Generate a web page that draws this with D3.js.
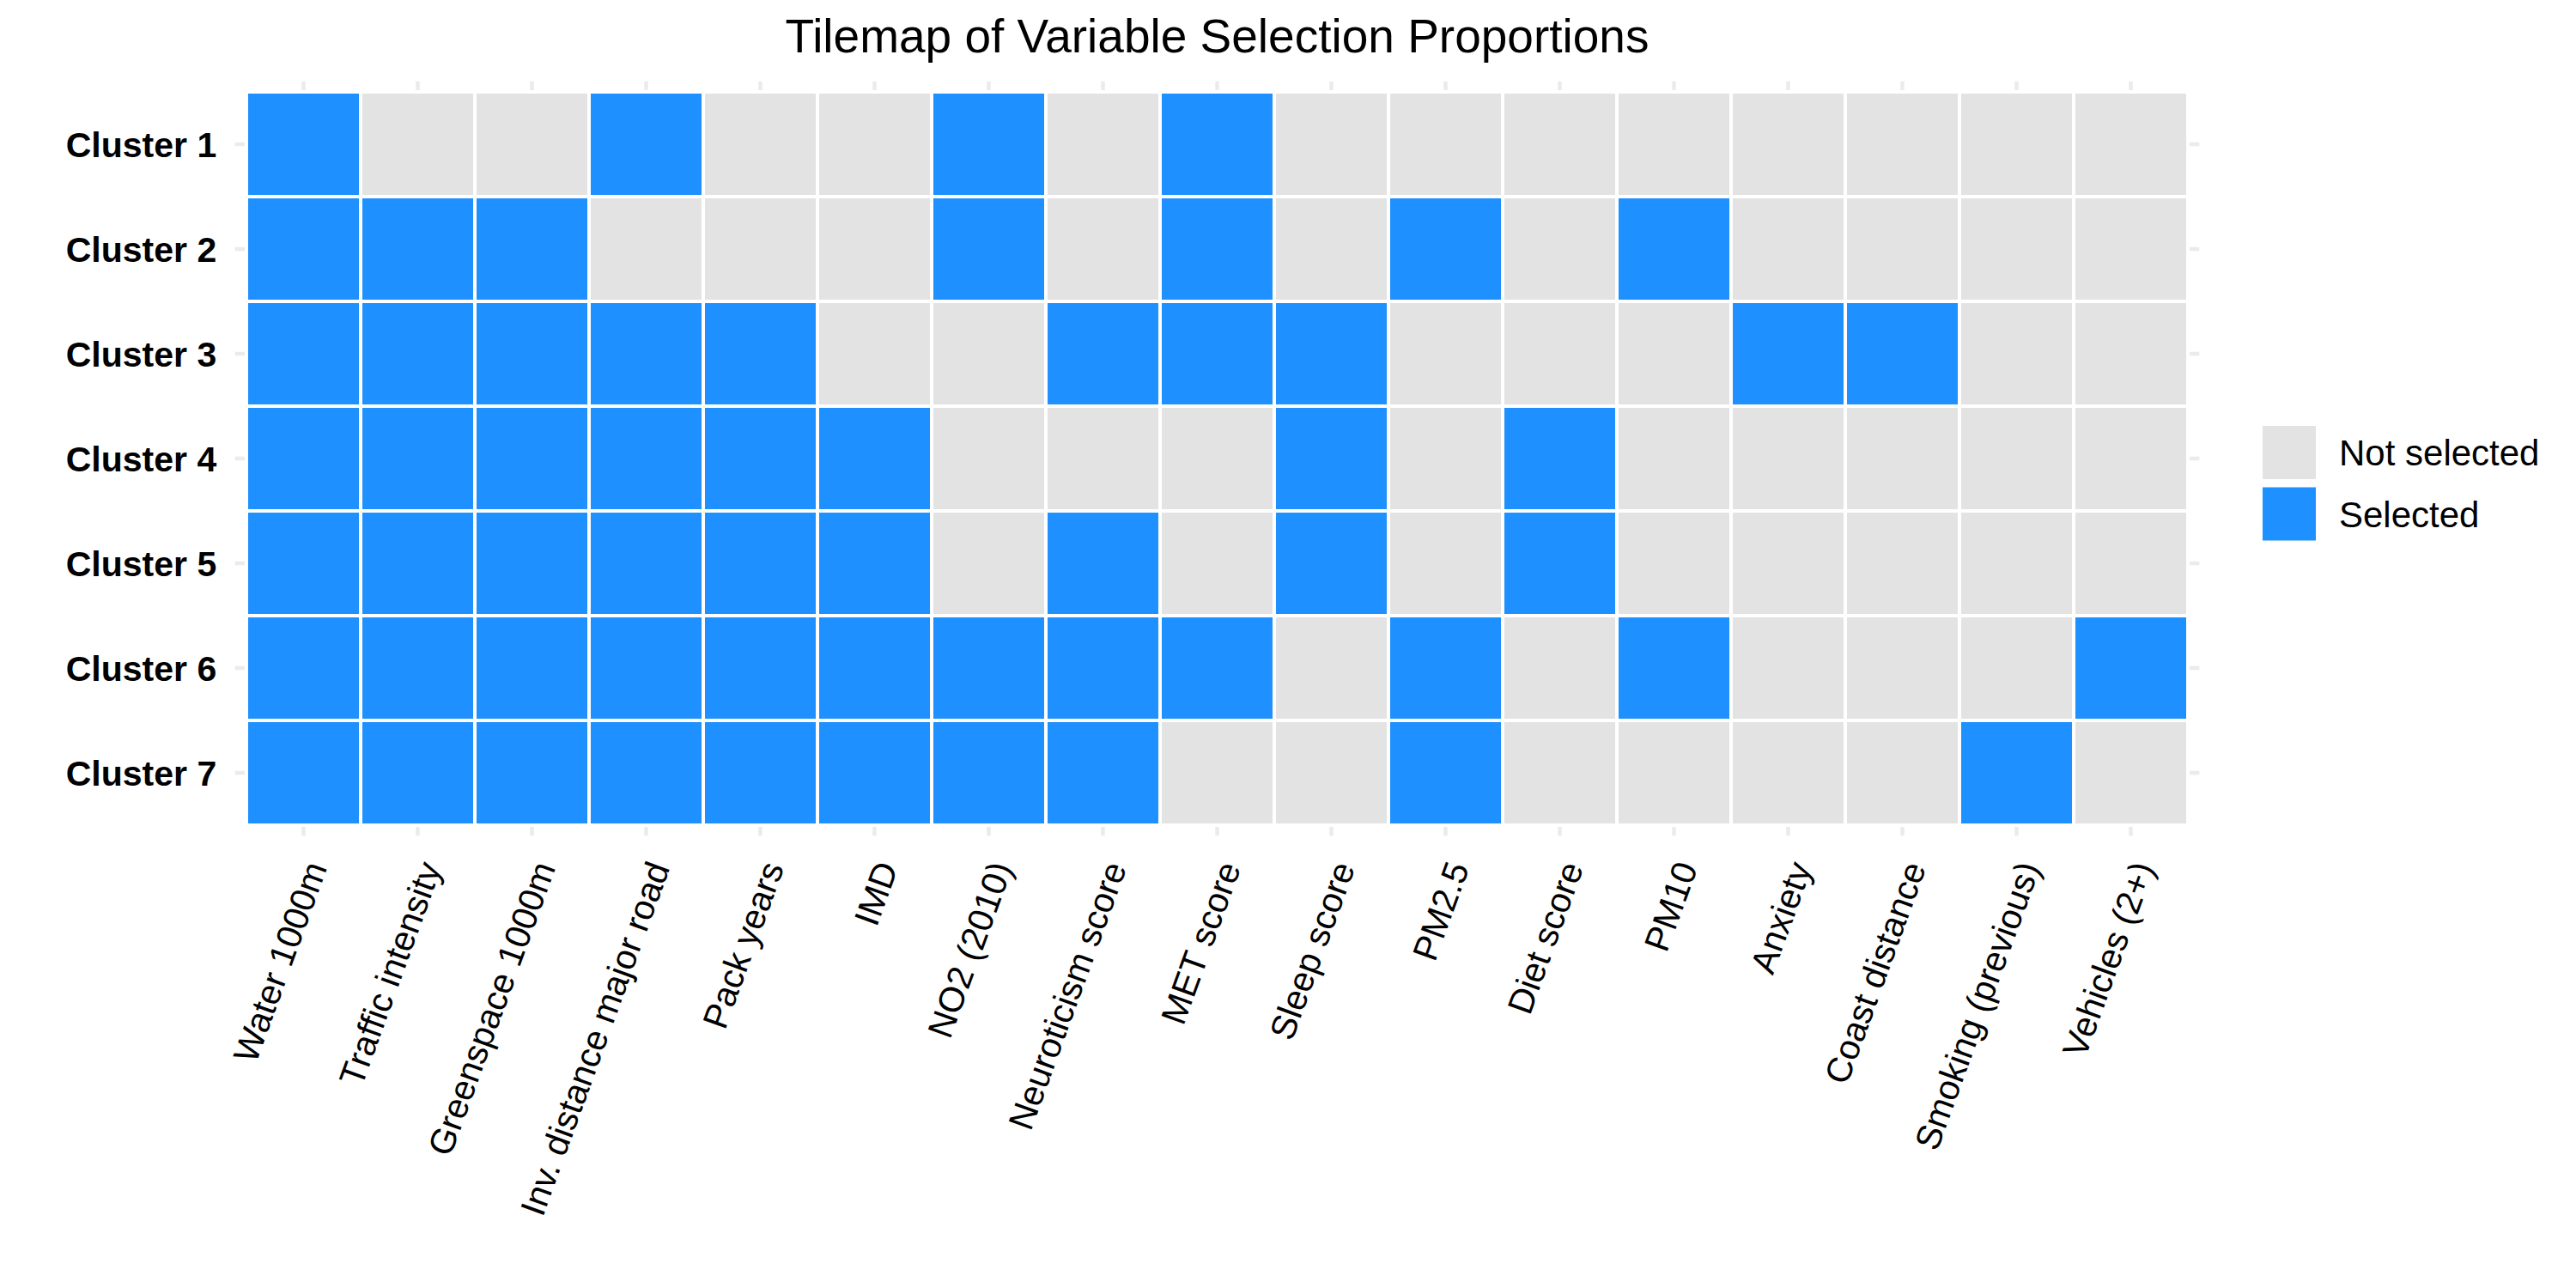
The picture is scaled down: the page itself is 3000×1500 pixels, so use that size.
<!DOCTYPE html>
<html>
<head>
<meta charset="utf-8">
<script src="https://cdn.jsdelivr.net/npm/d3@7"></script>
<style>
  html, body { margin: 0; padding: 0; background: #ffffff; }
  svg { display: block; font-family: "Liberation Sans", Arial, Helvetica, sans-serif; }
</style>
</head>
<body>
<svg id="chart" width="3000" height="1500"></svg>
<script>
// ---------------- data ----------------
const title = "Tilemap of Variable Selection Proportions";
const variables = [
  "Water 1000m", "Traffic intensity", "Greenspace 1000m", "Inv. distance major road",
  "Pack years", "IMD", "NO2 (2010)", "Neuroticism score", "MET score", "Sleep score",
  "PM2.5", "Diet score", "PM10", "Anxiety", "Coast distance", "Smoking (previous)", "Vehicles (2+)"
];
const clusters = ["Cluster 1", "Cluster 2", "Cluster 3", "Cluster 4", "Cluster 5", "Cluster 6", "Cluster 7"];
const legendLabels = ["Not selected", "Selected"];
// 1 = Selected, 0 = Not selected (rows = clusters, columns = variables)
const cluster1 = [1,0,0,1,0,0,1,0,1,0,0,0,0,0,0,0,0];
const cluster2 = [1,1,1,0,0,0,1,0,1,0,1,0,1,0,0,0,0];
const cluster3 = [1,1,1,1,1,0,0,1,1,1,0,0,0,1,1,0,0];
const cluster4 = [1,1,1,1,1,1,0,0,0,1,0,1,0,0,0,0,0];
const cluster5 = [1,1,1,1,1,1,0,1,0,1,0,1,0,0,0,0,0];
const cluster6 = [1,1,1,1,1,1,1,1,1,0,1,0,1,0,0,0,1];
const cluster7 = [1,1,1,1,1,1,1,1,0,0,1,0,0,0,0,1,0];
const selection = [cluster1, cluster2, cluster3, cluster4, cluster5, cluster6, cluster7];

// ---------------- layout ----------------
const svg = d3.select("#chart");
const tileLeft = 287, tileRight = 2548, tileTop = 107, tileBottom = 961;
const colors = { "Not selected": "#E3E3E3", "Selected": "#1E90FF" };
const gridColor = "#EBEBEB";

const x = d3.scaleBand().domain(variables).range([tileLeft, tileRight]).padding(0);
const y = d3.scaleBand().domain(clusters).range([tileTop, tileBottom]).padding(0);
const fill = d3.scaleOrdinal().domain(legendLabels).range([colors["Not selected"], colors["Selected"]]);

const expX = x.bandwidth() * 0.1, expY = y.bandwidth() * 0.1;
const panel = { left: tileLeft - expX, right: tileRight + expX, top: tileTop - expY, bottom: tileBottom + expY };

// tidy table built from the arrays
const cells = [];
clusters.forEach((c, i) => variables.forEach((v, j) => {
  cells.push({ cluster: c, variable: v, status: legendLabels[selection[i][j]] });
}));

// grid lines
const grid = svg.append("g");
grid.selectAll("line.v").data(variables).join("line")
  .attr("x1", d => x(d) + x.bandwidth() / 2).attr("x2", d => x(d) + x.bandwidth() / 2)
  .attr("y1", panel.top).attr("y2", panel.bottom)
  .attr("stroke", gridColor).attr("stroke-width", 4.5);
grid.selectAll("line.h").data(clusters).join("line")
  .attr("y1", d => y(d) + y.bandwidth() / 2).attr("y2", d => y(d) + y.bandwidth() / 2)
  .attr("x1", panel.left).attr("x2", panel.right)
  .attr("stroke", gridColor).attr("stroke-width", 4.5);

// tiles
svg.append("g").selectAll("rect").data(cells).join("rect")
  .attr("x", d => x(d.variable)).attr("y", d => y(d.cluster))
  .attr("width", x.bandwidth()).attr("height", y.bandwidth())
  .attr("fill", d => fill(d.status))
  .attr("stroke", "#ffffff").attr("stroke-width", 4);

// y axis
const yAxis = svg.append("g").attr("transform", `translate(${panel.left - 21.5},0)`)
  .call(d3.axisLeft(y).tickSize(0).tickPadding(0));
yAxis.select(".domain").remove();
yAxis.selectAll("text")
  .attr("font-size", 41).attr("font-weight", "bold").attr("fill", "#000")
  .attr("font-family", "Liberation Sans, Arial, sans-serif")
  .attr("dy", "0.36em");

// x axis
const xAxis = svg.append("g").attr("transform", `translate(0,${panel.bottom})`)
  .call(d3.axisBottom(x).tickSize(0).tickPadding(0));
xAxis.select(".domain").remove();
xAxis.selectAll("text")
  .attr("font-size", 41).attr("fill", "#000")
  .attr("font-family", "Liberation Sans, Arial, sans-serif")
  .attr("text-anchor", "end")
  .attr("x", 0).attr("y", 0).attr("dy", 0)
  .attr("transform", "translate(28,37) rotate(-70)");

// title
svg.append("text")
  .attr("x", (panel.left + panel.right) / 2).attr("y", 61)
  .attr("text-anchor", "middle").attr("font-size", 55).attr("fill", "#000")
  .text(title);

// legend
const legend = svg.append("g").attr("transform", "translate(2635,496)");
const keyStep = 71.5, keySize = 62;
legend.selectAll("rect").data(legendLabels).join("rect")
  .attr("x", 0).attr("y", (d, i) => i * keyStep)
  .attr("width", keySize).attr("height", keySize)
  .attr("fill", d => fill(d));
legend.selectAll("text").data(legendLabels).join("text")
  .attr("x", 89).attr("y", (d, i) => i * keyStep + keySize / 2)
  .attr("dy", "0.36em")
  .attr("font-size", 42).attr("fill", "#000")
  .text(d => d);
</script>
</body>
</html>
